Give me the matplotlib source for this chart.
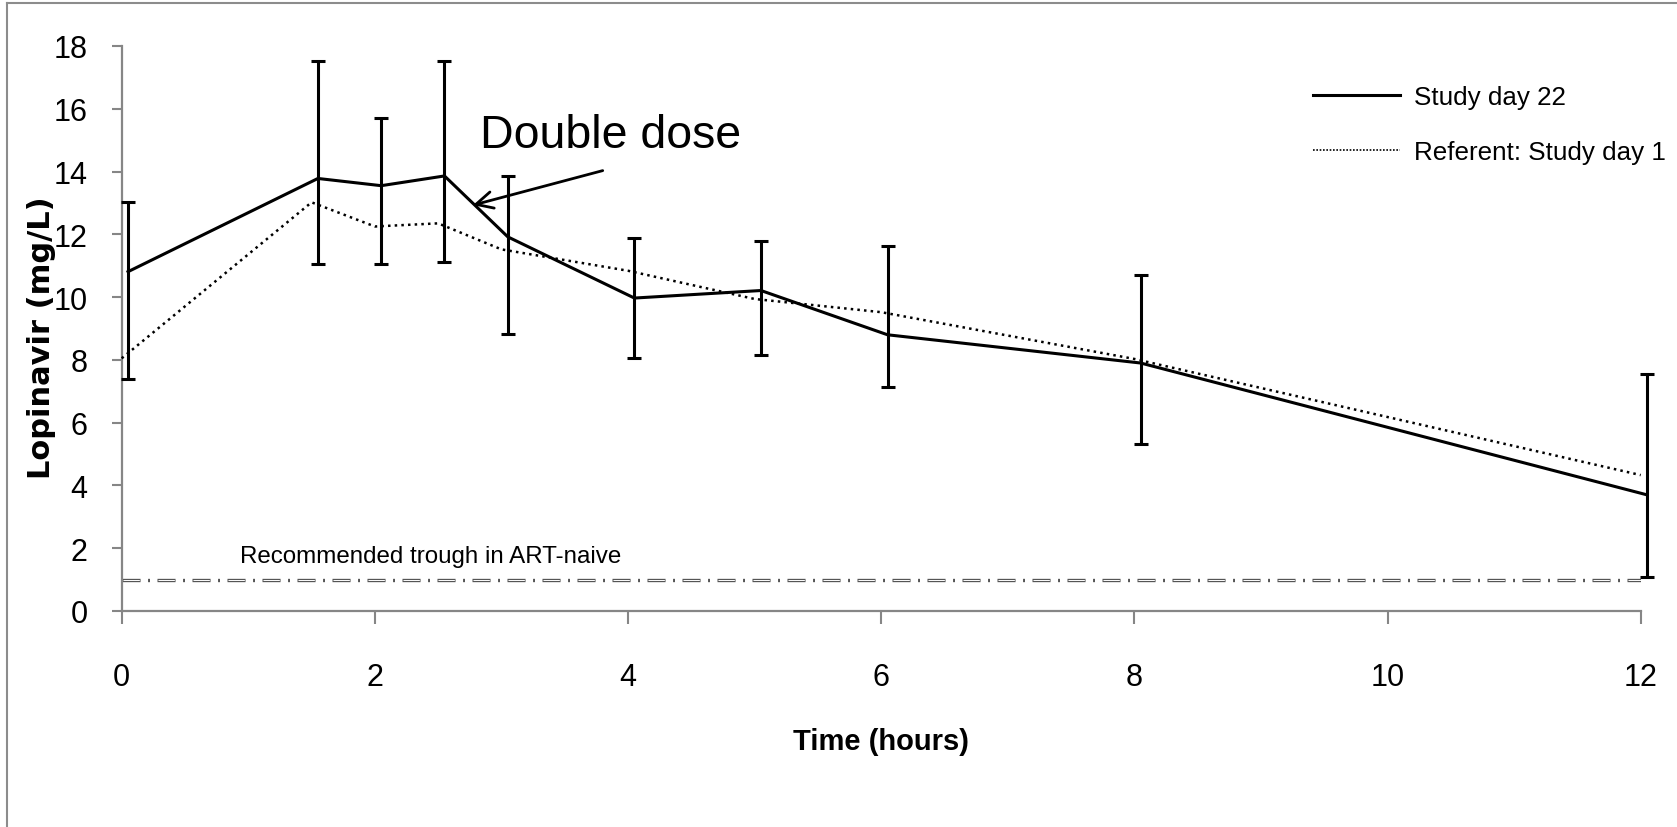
import matplotlib
matplotlib.use("Agg")
import matplotlib.pyplot as plt
from matplotlib.lines import Line2D

plt.rcParams['font.family'] = ['Liberation Sans', 'DejaVu Sans']
plt.rcParams['lines.scale_dashes'] = False

# data
t22 = [0.05, 1.55, 2.05, 2.55, 3.05, 4.05, 5.05, 6.05, 8.05, 12.05]
day22 = [10.81, 13.78, 13.55, 13.86, 11.92, 9.97, 10.21, 8.80, 7.90, 3.70]
day22_hi = [13.04, 17.52, 15.70, 17.52, 13.86, 11.87, 11.80, 11.62, 10.71, 7.55]
day22_lo = [7.39, 11.05, 11.05, 11.13, 8.81, 8.06, 8.14, 7.14, 5.32, 1.07]

t1 = [0, 1.5, 2, 2.5, 3, 4, 5, 6, 8, 12]
day1 = [8.05, 13.02, 12.25, 12.35, 11.52, 10.84, 9.94, 9.52, 8.03, 4.33]

trough = 1.0
xticks = [0, 2, 4, 6, 8, 10, 12]
yticks = [0, 2, 4, 6, 8, 10, 12, 14, 16, 18]

gray = '#868686'

fig = plt.figure(figsize=(16.77, 8.28), dpi=100)
ax = fig.add_axes([0.07257, 0.26087, 0.90578, 0.68237])

# trough line (hollow dash-dot look)
ax.axhline(trough, color='#555555', lw=2.4, linestyle=(0, (13, 5.4, 1.4, 5.4)),
           dash_capstyle='butt', zorder=2)
ax.axhline(trough, color='white', lw=0.7, linestyle=(24.5, (11.8, 13.4)),
           dash_capstyle='butt', zorder=2)
ax.text(0.935, 1.57, 'Recommended trough in ART-naive', fontsize=17.4, va='baseline')

err = [[d - lo for d, lo in zip(day22, day22_lo)],
       [hi - d for d, hi in zip(day22, day22_hi)]]
ax.errorbar(t22, day22, yerr=err, fmt='none', ecolor='black', elinewidth=2.2,
            capsize=5, capthick=2.2, zorder=3, clip_on=False)
ax.plot(t22, day22, color='black', lw=2.2, zorder=4, clip_on=False)
ax.plot(t1, day1, color='black', lw=1.8, linestyle=(0, (1.8, 3.0)), zorder=4,
        clip_on=False)

ax.annotate('', xy=(2.775, 12.93), xytext=(3.80, 14.03),
            arrowprops=dict(arrowstyle='->', lw=2, color='black',
                            mutation_scale=30, shrinkA=0, shrinkB=0))
ax.text(2.83, 14.77, 'Double dose', fontsize=33.5, va='baseline')

ax.set_xlim(0, 12)
ax.set_ylim(0, 18)
ax.set_xticks(xticks)
ax.set_yticks(yticks)
ax.tick_params(axis='x', length=9, width=1.5, color=gray, labelsize=22, pad=27.5)
ax.tick_params(axis='y', length=7.2, width=1.5, color=gray, labelsize=22, pad=17.5)
for s in ['top', 'right']:
    ax.spines[s].set_visible(False)
for s in ['left', 'bottom']:
    ax.spines[s].set_color(gray)
    ax.spines[s].set_linewidth(1.6)

ax.set_xlabel('Time (hours)', fontsize=21, fontweight='bold')
ax.xaxis.set_label_coords(0.5, -0.206)
ax.set_ylabel('Lopinavir (mg/L)', fontsize=22, fontweight='bold',
              family='DejaVu Sans')
ax.yaxis.set_label_coords(-0.043, 0.485)

handles = [Line2D([], [], color='black', lw=2.2),
           Line2D([], [], color='black', lw=1.2, linestyle=(0, (1.2, 1.2)))]
fig.legend(handles, ['Study day 22', 'Referent: Study day 1'], loc='upper left',
           bbox_to_anchor=(0.7830, 0.8965), frameon=False, fontsize=18.7,
           handlelength=3.35, handletextpad=0.54, labelspacing=1.22,
           borderpad=0, borderaxespad=0)

# outer chart border
bx, by = 7 / 1677, 1 - 4 / 828
fig.add_artist(Line2D([bx, bx], [0, by], transform=fig.transFigure,
                      color='#8c8c8c', lw=1.5))
fig.add_artist(Line2D([bx, 1], [by, by], transform=fig.transFigure,
                      color='#8c8c8c', lw=1.5))

fig.savefig('out.png', dpi=100)
